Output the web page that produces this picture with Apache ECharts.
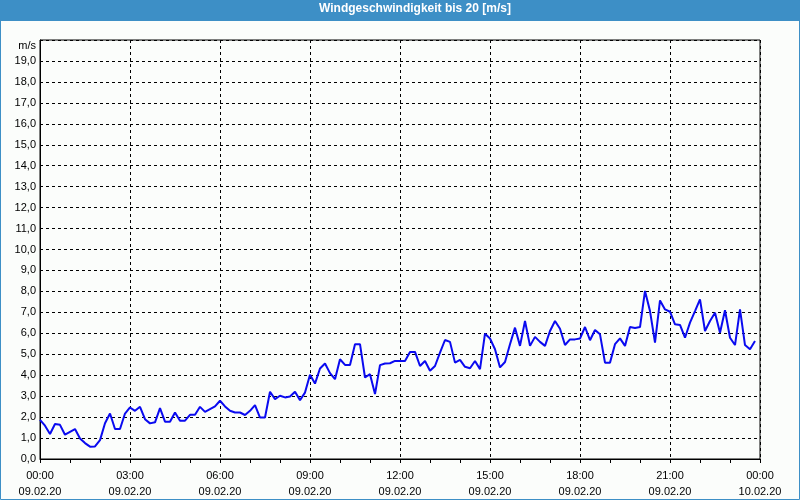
<!DOCTYPE html>
<html>
<head>
<meta charset="utf-8">
<script src="https://cdn.jsdelivr.net/npm/echarts@6/dist/echarts.min.js"></script>
<style>
html,body{margin:0;padding:0;background:#fbfdfb;}
#chart{width:800px;height:500px;}
</style>
</head>
<body>
<div id="chart"></div>
<script>
const chartTitle = 'Windgeschwindigkeit bis 20 [m/s]';
const unitLabel = 'm/s';
const timeLabels = ['00:00','03:00','06:00','09:00','12:00','15:00','18:00','21:00','00:00'];
const dateLabels = ['09.02.20','09.02.20','09.02.20','09.02.20','09.02.20','09.02.20','09.02.20','09.02.20','10.02.20'];
const sampleStepMinutes = 10;
// wind speed every 10 minutes from 09.02.20 00:00 to 23:50
const windSpeed = [
  1.87,1.59,1.19,1.67,1.63,1.16,1.30,1.43,0.98,0.76,0.59,0.60,
  0.90,1.71,2.17,1.43,1.43,2.17,2.46,2.30,2.49,1.90,1.70,1.75,
  2.43,1.78,1.78,2.22,1.83,1.83,2.11,2.11,2.49,2.25,2.38,2.51,
  2.78,2.51,2.30,2.22,2.22,2.10,2.30,2.57,1.98,1.98,3.21,2.86,
  3.02,2.94,2.98,3.21,2.81,3.17,4.02,3.60,4.32,4.56,4.10,3.81,
  4.76,4.49,4.49,5.48,5.48,3.89,4.05,3.10,4.48,4.56,4.57,4.68,
  4.68,4.68,5.11,5.11,4.44,4.68,4.21,4.44,5.08,5.68,5.59,4.60,
  4.73,4.40,4.33,4.68,4.29,5.98,5.75,5.24,4.37,4.63,5.48,6.27,
  5.40,6.59,5.40,5.83,5.59,5.40,6.11,6.59,6.22,5.44,5.71,5.71,
  5.75,6.30,5.67,6.16,5.95,4.60,4.60,5.48,5.76,5.40,6.30,6.25,
  6.30,8.02,7.06,5.56,7.57,7.14,7.03,6.43,6.40,5.79,6.51,7.06,
  7.62,6.11,6.59,6.98,6.03,7.10,5.79,5.44,7.14,5.44,5.24,5.63
];

const chart = echarts.init(document.getElementById('chart'));
const font = 'Tahoma, "Liberation Sans", Arial, sans-serif';
chart.setOption({
  animation: false,
  backgroundColor: '#fbfdfb',
  graphic: [
    {type:'rect', z:-10, shape:{x:0,y:0,width:800,height:21}, style:{fill:'#3d8fc6'}},
    {type:'rect', z:100, shape:{x:0.5,y:0.5,width:799,height:499}, style:{fill:null, stroke:'#3d8fc6', lineWidth:1}}
  ],
  title: {
    text: chartTitle,
    left: 415, top: 3, textAlign: 'center',
    padding: 0,
    textStyle: {color:'#ffffff', fontSize: 12, fontWeight: 'bold', fontFamily: font}
  },
  grid: {left: 40, right: 40, top: 40, bottom: 40, show: true, borderColor: '#000', borderWidth: 1, backgroundColor: '#fbfdfb'},
  xAxis: {
    type: 'value', min: 0, max: 1440, interval: 180,
    axisLine: {show: true, lineStyle: {color: '#000', width: 1}},
    axisTick: {show: true, length: 4, lineStyle: {color: '#000'}},
    minorTick: {show: true, splitNumber: 3, length: 4, lineStyle: {color: '#000'}},
    splitLine: {show: true, lineStyle: {color: '#000', type: [3,3], width: 1}},
    axisLabel: {
      color: '#000', fontSize: 11, fontFamily: font, margin: 9, lineHeight: 16,
      showMinLabel: true, showMaxLabel: true,
      formatter: function (v) { const k = Math.round(v / 180); return timeLabels[k] + '\n' + dateLabels[k]; }
    }
  },
  yAxis: {
    type: 'value', min: 0, max: 20, interval: 1,
    name: unitLabel, nameLocation: 'end', nameGap: -6,
    nameTextStyle: {color: '#000', fontSize: 11, fontFamily: font, align: 'right', verticalAlign: 'middle', padding: [0, 4, 0, 0]},
    axisLine: {show: true, lineStyle: {color: '#000', width: 1}},
    axisTick: {show: false},
    splitLine: {show: true, lineStyle: {color: '#000', type: [3,3], width: 1}},
    axisLabel: {
      color: '#000', fontSize: 11, fontFamily: font, margin: 4, showMaxLabel: false,
      formatter: function (v) { return v.toFixed(1).replace('.', ','); }
    }
  },
  series: [{
    type: 'line',
    data: windSpeed.map(function (v, i) { return [i * sampleStepMinutes, v]; }),
    showSymbol: false, symbol: 'none',
    lineStyle: {color: '#0a0af0', width: 2},
    z: 5
  }]
});
</script>
</body>
</html>
